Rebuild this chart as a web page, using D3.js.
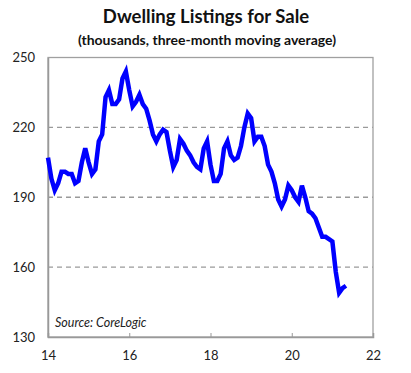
<!DOCTYPE html>
<html>
<head>
<meta charset="utf-8">
<script src="https://cdn.jsdelivr.net/npm/d3@7"></script>
<style>
  body { margin: 0; background: #fff; }
  svg { display: block; font-family: Lato, "Open Sans", sans-serif; }
</style>
</head>
<body>
<div id="chart"></div>
<script>
// monthly listings (thousands), starting Jan 2014
const startYear = 14;
const listings = [
  207, 198, 193, 196, 201, 201, 200, 200, 196, 197, 205, 211,
  205, 200, 202, 214, 217, 233, 236, 230, 230, 232, 241, 244,
  236, 229, 231, 234, 230, 228, 223, 217, 214, 217, 219, 218,
  210, 203, 206, 215, 213, 210, 208, 205, 203, 202, 211, 214,
  204, 197, 197, 200, 211, 214, 208, 206, 207, 212, 220, 226,
  224, 214, 216, 216, 212, 204, 201, 196, 189, 186, 189, 195,
  193, 190, 188, 195, 190, 184, 183, 181, 177, 173, 173, 172,
  171, 158, 149, 151, 152
];
const xTicks = [14, 16, 18, 20, 22];
const yTicks = [130, 160, 190, 220, 250];

const width = 411;
const height = 373;
const margin = { top: 57.5, right: 38, bottom: 36, left: 48 };

const svg = d3.select("#chart")
  .append("svg")
  .attr("width", width)
  .attr("height", height);

const x = d3.scaleLinear()
  .domain([14, 22])
  .range([margin.left, width - margin.right]);

const y = d3.scaleLinear()
  .domain([130, 250])
  .range([height - margin.bottom, margin.top]);

// ---------------------------
// Titles
// ---------------------------
svg.append("text")
  .attr("x", 206)
  .attr("y", 23)
  .attr("text-anchor", "middle")
  .attr("font-size", 18.5)
  .attr("font-weight", "bold")
  .attr("fill", "#111")
  .text("Dwelling Listings for Sale");

svg.append("text")
  .attr("x", 207)
  .attr("y", 45)
  .attr("text-anchor", "middle")
  .attr("font-size", 14)
  .attr("font-weight", "bold")
  .attr("fill", "#111")
  .text("(thousands, three-month moving average)");

// ---------------------------
// Grid + frame
// ---------------------------
svg.append("g")
  .selectAll("line")
  .data(yTicks.slice(1, -1))
  .join("line")
  .attr("x1", x(14))
  .attr("x2", x(22))
  .attr("y1", d => y(d))
  .attr("y2", d => y(d))
  .attr("stroke", "#9a9a9a")
  .attr("stroke-width", 1.3)
  .attr("stroke-dasharray", "5,4");

svg.append("rect")
  .attr("x", x(14))
  .attr("y", y(250))
  .attr("width", x(22) - x(14))
  .attr("height", y(130) - y(250))
  .attr("fill", "none")
  .attr("stroke", "#a0a0a0")
  .attr("stroke-width", 1.3);

// bottom axis
const xAxis = svg.append("g")
  .attr("transform", `translate(0,${y(130)})`)
  .call(d3.axisBottom(x).tickValues(xTicks).tickSize(-4).tickFormat(d3.format("d")));

xAxis.select(".domain").attr("stroke", "#999").attr("stroke-width", 1.5);
xAxis.selectAll(".tick line").attr("stroke", "#999");
xAxis.selectAll(".tick text")
  .attr("y", 14)
  .attr("font-size", 13)
  .attr("font-family", "Lato, sans-serif")
  .attr("fill", "#222");

// left axis labels
const yAxis = svg.append("g")
  .attr("transform", `translate(${x(14)},0)`)
  .call(d3.axisLeft(y).tickValues(yTicks).tickSize(0).tickPadding(13));

yAxis.select(".domain").attr("stroke", "#999").attr("stroke-width", 1.5);
yAxis.selectAll(".tick text")
  .attr("font-size", 13)
  .attr("font-family", "Lato, sans-serif")
  .attr("fill", "#222");

// ---------------------------
// Line
// ---------------------------
const line = d3.line()
  .x((d, i) => x(startYear + i / 12))
  .y(d => y(d));

svg.append("path")
  .datum(listings)
  .attr("fill", "none")
  .attr("stroke", "#0000ff")
  .attr("stroke-width", 4.5)
  .attr("stroke-linejoin", "miter")
  .attr("d", line);

// source note
svg.append("text")
  .attr("x", 55)
  .attr("y", 327)
  .attr("font-size", 12.5)
  .attr("font-style", "italic")
  .attr("fill", "#222")
  .text("Source: CoreLogic");
</script>
</body>
</html>
